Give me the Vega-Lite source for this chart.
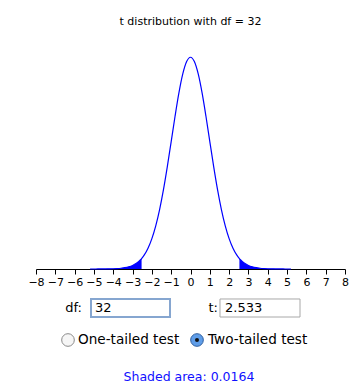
{
  "$schema": "https://vega.github.io/schema/vega-lite/v6.json",
  "width": 309,
  "height": 214,
  "autosize": {"type": "none"},
  "padding": {"left": 36, "top": 55, "right": 12, "bottom": 120},
  "background": "white",
  "config": {
    "font": "DejaVu Sans",
    "view": {"stroke": null},
    "axisX": {"tickCount": 16, "format": "d", "grid": false, "title": null,
      "domainColor": "black", "tickColor": "black", "labelColor": "black", "tickSize": 5,
      "labelFontSize": 11, "labelPadding": 2, "labelOverlap": false, "labelFlush": false}
  },
  "title": {"text": "t distribution with df = 32", "fontSize": 11, "fontWeight": "normal", "color": "black", "offset": 28, "anchor": "middle"},
  "datasets": {
    "curve": [
      {"t": -5.2, "density": 0.00002}, {"t": -5.0, "density": 0.00003}, {"t": -4.8, "density": 0.00005},
      {"t": -4.6, "density": 0.00009}, {"t": -4.4, "density": 0.00016}, {"t": -4.2, "density": 0.00028},
      {"t": -4.0, "density": 0.00049}, {"t": -3.8, "density": 0.00085}, {"t": -3.6, "density": 0.00145},
      {"t": -3.4, "density": 0.00244}, {"t": -3.2, "density": 0.00406}, {"t": -3.0, "density": 0.00663},
      {"t": -2.8, "density": 0.01065}, {"t": -2.6, "density": 0.01676}, {"t": -2.533, "density": 0.01942},
      {"t": -2.4, "density": 0.02580}, {"t": -2.2, "density": 0.03876}, {"t": -2.0, "density": 0.05670},
      {"t": -1.8, "density": 0.08062}, {"t": -1.6, "density": 0.11118}, {"t": -1.4, "density": 0.14844},
      {"t": -1.2, "density": 0.19147}, {"t": -1.0, "density": 0.23824}, {"t": -0.8, "density": 0.28550},
      {"t": -0.6, "density": 0.32912}, {"t": -0.4, "density": 0.36457}, {"t": -0.2, "density": 0.38776},
      {"t": 0.0, "density": 0.39584},
      {"t": 0.2, "density": 0.38776}, {"t": 0.4, "density": 0.36457}, {"t": 0.6, "density": 0.32912},
      {"t": 0.8, "density": 0.28550}, {"t": 1.0, "density": 0.23824}, {"t": 1.2, "density": 0.19147},
      {"t": 1.4, "density": 0.14844}, {"t": 1.6, "density": 0.11118}, {"t": 1.8, "density": 0.08062},
      {"t": 2.0, "density": 0.05670}, {"t": 2.2, "density": 0.03876}, {"t": 2.4, "density": 0.02580},
      {"t": 2.533, "density": 0.01942}, {"t": 2.6, "density": 0.01676}, {"t": 2.8, "density": 0.01065},
      {"t": 3.0, "density": 0.00663}, {"t": 3.2, "density": 0.00406}, {"t": 3.4, "density": 0.00244},
      {"t": 3.6, "density": 0.00145}, {"t": 3.8, "density": 0.00085}, {"t": 4.0, "density": 0.00049},
      {"t": 4.2, "density": 0.00028}, {"t": 4.4, "density": 0.00016}, {"t": 4.6, "density": 0.00009},
      {"t": 4.8, "density": 0.00005}, {"t": 5.0, "density": 0.00003}, {"t": 5.2, "density": 0.00002}
    ]
  },
  "layer": [
    {
      "data": {"name": "curve"},
      "transform": [{"filter": "datum.t <= -2.533"}],
      "mark": {"type": "area", "color": "#0000ff", "interpolate": "monotone"},
      "encoding": {
        "x": {"field": "t", "type": "quantitative", "scale": {"domain": [-8, 8], "nice": false}},
        "y": {"field": "density", "type": "quantitative", "scale": {"domain": [0, 0.4], "nice": false}, "axis": null}
      }
    },
    {
      "data": {"name": "curve"},
      "transform": [{"filter": "datum.t >= 2.533"}],
      "mark": {"type": "area", "color": "#0000ff", "interpolate": "monotone"},
      "encoding": {
        "x": {"field": "t", "type": "quantitative"},
        "y": {"field": "density", "type": "quantitative"}
      }
    },
    {
      "data": {"name": "curve"},
      "mark": {"type": "line", "color": "#0000ff", "strokeWidth": 1.2, "interpolate": "monotone"},
      "encoding": {
        "x": {"field": "t", "type": "quantitative"},
        "y": {"field": "density", "type": "quantitative"}
      }
    },
    {
      "data": {"values": [{"label": "df:"}]},
      "mark": {"type": "text", "align": "right", "baseline": "middle", "fontSize": 13, "color": "black"},
      "encoding": {"x": {"datum": -5.618}, "y": {"datum": -0.0729}, "text": {"field": "label"}}
    },
    {
      "data": {"values": [{"box": "df"}]},
      "mark": {"type": "rect", "fill": "white", "stroke": "#86a6d0", "strokeWidth": 2},
      "encoding": {"x": {"datum": -5.152}, "x2": {"datum": -1.0615}, "y": {"datum": -0.05607}, "y2": {"datum": -0.08972}}
    },
    {
      "data": {"values": [{"label": "32"}]},
      "mark": {"type": "text", "align": "left", "baseline": "middle", "fontSize": 13, "color": "black"},
      "encoding": {"x": {"datum": -4.945}, "y": {"datum": -0.0729}, "text": {"field": "label"}}
    },
    {
      "data": {"values": [{"label": "t:"}]},
      "mark": {"type": "text", "align": "right", "baseline": "middle", "fontSize": 13, "color": "black"},
      "encoding": {"x": {"datum": 1.424}, "y": {"datum": -0.0729}, "text": {"field": "label"}}
    },
    {
      "data": {"values": [{"box": "t"}]},
      "mark": {"type": "rect", "fill": "white", "stroke": "#a8a8a8", "strokeWidth": 1},
      "encoding": {"x": {"datum": 1.5275}, "x2": {"datum": 5.67}, "y": {"datum": -0.05607}, "y2": {"datum": -0.08972}}
    },
    {
      "data": {"values": [{"label": "2.533"}]},
      "mark": {"type": "text", "align": "left", "baseline": "middle", "fontSize": 13, "color": "black"},
      "encoding": {"x": {"datum": 1.786}, "y": {"datum": -0.0729}, "text": {"field": "label"}}
    },
    {
      "data": {"values": [{"option": "one"}]},
      "mark": {"type": "point", "shape": "circle", "filled": true, "fill": "#f6f6f6", "stroke": "#8a8a8a", "strokeWidth": 1, "size": 160, "opacity": 1},
      "encoding": {"x": {"datum": -6.343}, "y": {"datum": -0.13271}}
    },
    {
      "data": {"values": [{"label": "One-tailed test"}]},
      "mark": {"type": "text", "align": "left", "baseline": "middle", "fontSize": 13.6, "color": "black"},
      "encoding": {"x": {"datum": -5.825}, "y": {"datum": -0.13271}, "text": {"field": "label"}}
    },
    {
      "data": {"values": [{"option": "two"}]},
      "mark": {"type": "point", "shape": "circle", "filled": true, "fill": "#5f9de8", "stroke": "#2f5f9f", "strokeWidth": 1, "size": 160, "opacity": 1},
      "encoding": {"x": {"datum": 0.3366}, "y": {"datum": -0.13271}}
    },
    {
      "data": {"values": [{"option": "two-dot"}]},
      "mark": {"type": "point", "shape": "circle", "filled": true, "fill": "#111111", "size": 16, "opacity": 1},
      "encoding": {"x": {"datum": 0.3366}, "y": {"datum": -0.13271}}
    },
    {
      "data": {"values": [{"label": "Two-tailed test"}]},
      "mark": {"type": "text", "align": "left", "baseline": "middle", "fontSize": 13.6, "color": "black"},
      "encoding": {"x": {"datum": 0.906}, "y": {"datum": -0.13271}, "text": {"field": "label"}}
    },
    {
      "data": {"values": [{"label": "Shaded area: 0.0164"}]},
      "mark": {"type": "text", "align": "center", "baseline": "middle", "fontSize": 12.5, "color": "#1010ff"},
      "encoding": {"x": {"datum": -0.08}, "y": {"datum": -0.20187}, "text": {"field": "label"}}
    }
  ]
}
